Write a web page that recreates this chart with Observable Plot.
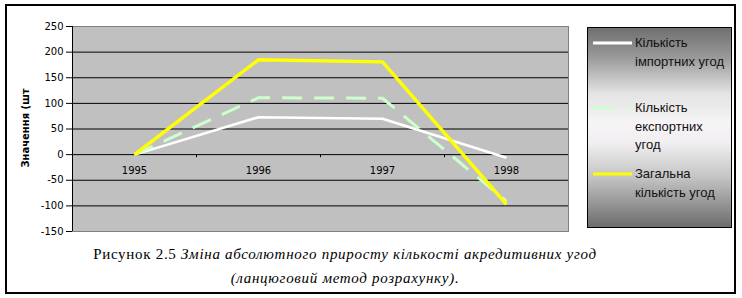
<!DOCTYPE html>
<html>
<head>
<meta charset="utf-8">
<script src="https://cdn.jsdelivr.net/npm/d3@7"></script>
<script src="https://cdn.jsdelivr.net/npm/@observablehq/plot@0.6"></script>
<style>
  html, body { margin: 0; padding: 0; background: #fff; }
  #wrap { position: relative; width: 742px; height: 298px; background: #fff; overflow: hidden; }
  #outer { position: absolute; left: 5px; top: 4px; width: 731px; height: 290px; box-sizing: border-box; border: 2px solid #000; }
  #chart { position: absolute; left: 0; top: 0; }
  #ylab { position: absolute; left: 25px; top: 128px; transform: translate(-50%, -50%) rotate(-90deg); font: bold 10px "DejaVu Sans", sans-serif; white-space: nowrap; color: #000; }
  #legend { position: absolute; left: 587px; top: 27px; width: 145px; height: 201px; box-sizing: border-box; border: 1px solid #000;
    background: linear-gradient(to bottom, #707070 0%, #9a9a9a 15%, #e4e4e4 33%, #f6f4f6 48%, #f0eef0 58%, #c4c4c4 75%, #6c6c6c 100%); }
  .entry { position: absolute; left: 5px; }
  .entry svg { position: absolute; left: 0; top: 0; }
  .entry .txt { position: absolute; left: 42px; top: -9px; font: 13px "Liberation Sans", Arial, sans-serif; line-height: 18.5px; color: #111; white-space: nowrap; }
</style>
</head>
<body>
<div id="wrap">
  <div id="outer"></div>
  <div id="chart"></div>
  <div id="ylab"></div>
  <div id="legend"></div>
  <div id="caption1"></div>
</div>
<script>
// ---- data ----
const years = ["1995", "1996", "1997", "1998"];
const importDeals = [0, 73, 70, -6];
const exportDeals = [0, 111, 110, -91];
const totalDeals = [0, 185, 181, -97];
const seriesNames = ["Кількість імпортних угод", "Кількість експортних угод", "Загальна кількість угод"];
const legendLines = [["Кількість", "імпортних угод"], ["Кількість", "експортних", "угод"], ["Загальна", "кількість угод"]];
const yTicks = [-150, -100, -50, 0, 50, 100, 150, 200, 250];
const yTitle = "Значення (шт";
const captionPlain = "Рисунок 2.5 ";
const captionItalic1 = "Зміна абсолютного приросту кількості акредитивних  угод";
const captionItalic2 = "(ланцюговий метод розрахунку).";

// ---- table ----
const seriesValues = [importDeals, exportDeals, totalDeals];
const rows = seriesValues.flatMap((vals, s) => vals.map((v, i) => ({series: seriesNames[s], i, year: years[i], value: v})));
const boundaries = years.map((d, i) => i + 0.5).slice(0, -1);
const gridVals = yTicks.slice(1, -1);

const styles = [
  {stroke: "#ffffff", strokeWidth: 2.6},
  {stroke: "#ccffcc", strokeWidth: 3, strokeDasharray: "20,12"},
  {stroke: "#ffff00", strokeWidth: 3.4}
];

const chart = Plot.plot({
  width: 742,
  height: 240,
  marginTop: 26,
  marginBottom: 9,
  marginLeft: 72,
  marginRight: 174,
  style: {background: "transparent", fontFamily: "'DejaVu Sans', sans-serif", fontSize: "10px", color: "#000", overflow: "visible"},
  x: {domain: [-0.5, years.length - 0.5], axis: null},
  y: {domain: [yTicks[0], yTicks[yTicks.length - 1]], axis: null},
  marks: [
    Plot.frame({fill: "#c0c0c0", stroke: "#808080"}),
    Plot.ruleY(gridVals, {stroke: "#000", strokeWidth: 1}),
    Plot.ruleX(boundaries, {y1: 0, y2: -6, stroke: "#000"}),
    Plot.ruleX([-0.5], {stroke: "#000", strokeWidth: 1}),
    Plot.axisY({ticks: yTicks, tickFormat: d => String(d), tickSize: 6, tickPadding: 3, label: null, anchor: "left", fill: "#000", stroke: "#000", fontSize: 10}),
    Plot.text(years, {x: (d, i) => i, y: 0, dy: 16, text: d => d, fill: "#000", fontSize: 10}),
    ...seriesNames.map((name, s) =>
      Plot.line(rows.filter(r => r.series === name), {x: "i", y: "value", ...styles[s], strokeLinejoin: "miter", strokeLinecap: "butt"})
    )
  ]
});
document.getElementById("chart").appendChild(chart);

document.getElementById("ylab").textContent = yTitle;

// legend
const legend = document.getElementById("legend");
const entryTops = [15, 80, 146];
seriesNames.forEach((name, s) => {
  const e = document.createElement("div");
  e.className = "entry";
  e.style.top = entryTops[s] + "px";
  const st = styles[s];
  e.innerHTML = `<svg width="40" height="6" style="top:-3px"><line x1="0" x2="39" y1="3" y2="3" stroke="${st.stroke}" stroke-width="3" ${st.strokeDasharray ? 'stroke-dasharray="20,14"' : ''}/></svg>` +
    `<div class="txt">${legendLines[s].join("<br>")}</div>`;
  legend.appendChild(e);
});

// caption
const cap = document.getElementById("caption1");
cap.style.cssText = "position:absolute;left:0;width:690px;top:242px;text-align:center;font-family:'Liberation Serif','Times New Roman',serif;font-size:15px;letter-spacing:0.7px;line-height:24px;white-space:nowrap;color:#000;";
cap.innerHTML = `${captionPlain}<i>${captionItalic1}</i><br><i>${captionItalic2}</i>`;
</script>
</body>
</html>
